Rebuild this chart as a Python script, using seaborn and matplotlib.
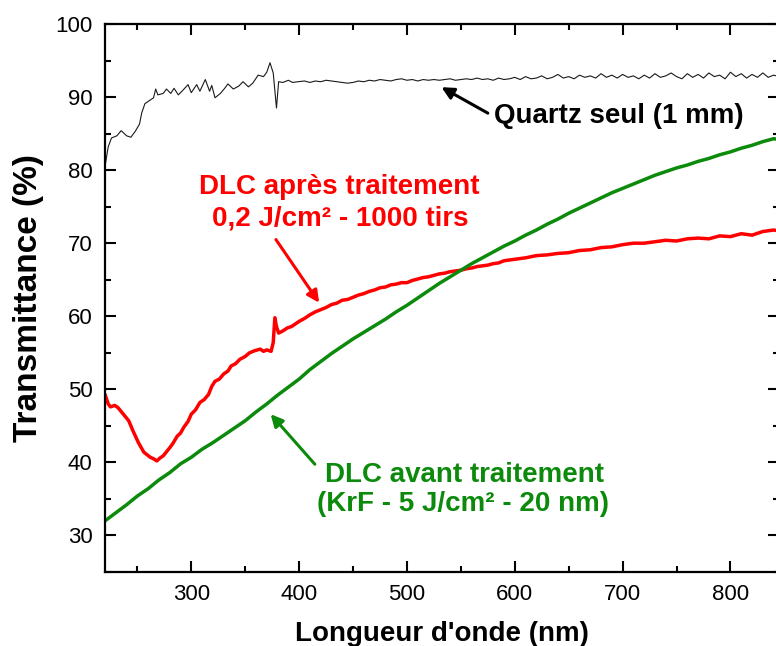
import numpy as np
import pandas as pd
import matplotlib
matplotlib.use("Agg")
import matplotlib.pyplot as plt
import seaborn as sns
from matplotlib.ticker import MultipleLocator

# --- data ---
quartz_nm = [220, 221, 223, 226, 231, 235, 240, 244, 248, 252, 254, 257, 262, 265, 267, 269,
             274, 277, 281, 284, 288, 292, 297, 300, 305, 308, 313, 317, 319, 322, 327, 331,
             334, 339, 344, 348, 353, 357, 362, 367, 370, 373, 376, 379, 381, 385, 390, 394,
             399, 405, 410, 415, 420, 425, 430, 435, 440, 445, 450, 455, 460, 465, 470, 475,
             480, 485, 490, 495, 500, 505, 510, 515, 520, 525, 530, 535, 540, 545, 550, 555,
             560, 565, 570, 575, 580, 585, 590, 595, 600, 605, 610, 615, 620, 625, 630, 635,
             640, 645, 650, 655, 660, 665, 670, 675, 680, 685, 690, 695, 700, 705, 710, 715,
             720, 725, 730, 735, 740, 745, 750, 755, 760, 765, 770, 775, 780, 785, 790, 795,
             800, 805, 810, 815, 820, 825, 830, 835, 840, 845]
quartz_T = [80.5, 81.4, 83.2, 84.4, 84.7, 85.4, 84.7, 84.5, 85.3, 86.3, 87.8, 89.1, 89.6, 89.9, 91.1, 90.3,
            90.5, 91.1, 90.5, 91.2, 90.3, 90.9, 91.7, 90.6, 91.7, 90.8, 92.4, 90.8, 91.6, 89.9, 90.5, 91.2,
            91.8, 91.1, 91.5, 92.1, 91.4, 91.9, 93.0, 92.8, 93.4, 94.7, 93.3, 88.5, 92.1, 92.0, 92.3, 92.0,
            92.1, 92.2, 92.0, 92.2, 92.1, 92.3, 92.2, 92.1, 92.0, 91.9, 92.0, 92.2, 92.1, 92.3, 92.2, 92.4,
            92.3, 92.2, 92.4, 92.5, 92.3, 92.4, 92.2, 92.4, 92.3, 92.4, 92.3, 92.4, 92.5, 92.3, 92.4, 92.5,
            92.4, 92.6, 92.4, 92.5, 92.3, 92.6, 92.4, 92.5, 92.7, 92.4, 92.8, 92.5, 92.6, 92.9, 92.5, 92.7,
            93.1, 92.6, 92.8, 92.5, 93.0, 92.7, 92.9, 92.6, 93.2, 92.7, 93.0, 92.6, 93.1, 92.7, 92.9, 92.5,
            93.0, 92.6, 93.2, 92.7, 92.9, 93.3, 92.8, 92.5, 93.2, 92.7, 93.1, 92.6, 93.3, 92.8, 93.0, 92.5,
            93.4, 92.8, 93.2, 92.6, 93.1, 92.7, 93.3, 92.7, 93.0, 92.8]

after_nm = [220, 223, 225, 229, 232, 237, 242, 246, 251, 256, 262, 265, 268, 271, 274, 280,
            283, 287, 290, 293, 297, 300, 304, 308, 312, 316, 319, 322, 326, 330, 334, 337,
            341, 345, 350, 354, 359, 364, 367, 370, 374, 376, 377.5, 379, 381, 385, 389, 393,
            397, 400, 405, 410, 415, 420, 425, 430, 435, 440, 445, 450, 455, 460, 465, 470,
            475, 480, 485, 490, 495, 500, 505, 510, 515, 520, 525, 530, 535, 540, 545, 550,
            555, 560, 565, 570, 575, 580, 585, 590, 595, 600, 610, 620, 630, 640, 650, 660,
            670, 680, 690, 700, 710, 720, 730, 740, 750, 760, 770, 780, 790, 800, 810, 820,
            830, 840, 845]
after_T = [49.3, 48.0, 47.6, 47.8, 47.5, 46.6, 45.7, 44.3, 42.7, 41.4, 40.7, 40.5, 40.2, 40.6, 40.9, 42.0,
           42.6, 43.6, 44.0, 44.8, 45.6, 46.6, 47.2, 48.2, 48.6, 49.3, 50.4, 51.1, 51.4, 52.1, 52.5, 53.2,
           53.5, 54.1, 54.5, 55.0, 55.3, 55.5, 55.2, 55.4, 55.2, 56.4, 59.8, 58.6, 57.7, 58.0, 58.4, 58.6,
           59.0, 59.3, 59.7, 60.2, 60.6, 60.9, 61.2, 61.6, 61.8, 62.2, 62.3, 62.6, 62.9, 63.1, 63.4, 63.6,
           63.9, 64.0, 64.3, 64.4, 64.6, 64.6, 64.9, 65.1, 65.3, 65.4, 65.6, 65.8, 65.9, 66.1, 66.2, 66.3,
           66.5, 66.6, 66.8, 66.9, 67.0, 67.2, 67.3, 67.6, 67.7, 67.8, 68.0, 68.3, 68.4, 68.6, 68.7, 69.0,
           69.1, 69.4, 69.5, 69.8, 70.0, 70.0, 70.2, 70.4, 70.3, 70.6, 70.7, 70.6, 71.0, 70.9, 71.3, 71.1,
           71.6, 71.8, 71.7]

before_nm = [220, 230, 240, 250, 260, 270, 280, 290, 300, 310, 320, 330, 340, 350, 360, 370,
             380, 390, 400, 410, 420, 430, 440, 450, 460, 470, 480, 490, 500, 510, 520, 530,
             540, 550, 560, 570, 580, 590, 600, 610, 620, 630, 640, 650, 660, 670, 680, 690,
             700, 710, 720, 730, 740, 750, 760, 770, 780, 790, 800, 810, 820, 830, 840, 845]
before_T = [32.0, 33.1, 34.2, 35.4, 36.4, 37.6, 38.6, 39.8, 40.7, 41.8, 42.7, 43.7, 44.7, 45.7, 46.9, 48.0,
            49.2, 50.3, 51.4, 52.7, 53.8, 54.9, 55.9, 56.9, 57.8, 58.7, 59.6, 60.6, 61.5, 62.5, 63.5, 64.5,
            65.4, 66.3, 67.2, 68.0, 68.8, 69.6, 70.3, 71.1, 71.8, 72.6, 73.3, 74.1, 74.8, 75.5, 76.2, 76.9,
            77.5, 78.1, 78.7, 79.3, 79.8, 80.3, 80.7, 81.2, 81.6, 82.1, 82.5, 83.0, 83.4, 83.9, 84.3, 84.2]

quartz = pd.DataFrame({"nm": quartz_nm, "T": quartz_T})
after = pd.DataFrame({"nm": after_nm, "T": after_T})
before = pd.DataFrame({"nm": before_nm, "T": before_T})

sns.set_style("ticks")
plt.rcParams["font.family"] = ["Liberation Sans", "DejaVu Sans"]
plt.rcParams.update({"text.color": "black", "axes.labelcolor": "black",
                     "xtick.color": "black", "ytick.color": "black",
                     "axes.edgecolor": "black"})

fig = plt.figure(figsize=(7.76, 6.46), dpi=100)
ax = fig.add_axes([105 / 776, 74 / 646, 674 / 776, 548 / 646])

sns.lineplot(data=quartz, x="nm", y="T", ax=ax, color="#1a1a1a", lw=0.8, sort=False, estimator=None)
sns.lineplot(data=after, x="nm", y="T", ax=ax, color="#ff0000", lw=2.5, sort=False, estimator=None)
sns.lineplot(data=before, x="nm", y="T", ax=ax, color="#0b8a0b", lw=2.5, sort=False, estimator=None)

ax.set_xlim(220, 845)
ax.set_ylim(25, 100)
ax.xaxis.set_major_locator(MultipleLocator(100))
ax.xaxis.set_minor_locator(MultipleLocator(50))
ax.yaxis.set_major_locator(MultipleLocator(10))
ax.yaxis.set_minor_locator(MultipleLocator(5))
ax.set_yticks([30, 40, 50, 60, 70, 80, 90, 100])
ax.tick_params(which="both", direction="in", top=True, right=True, width=1.5, color="black")
ax.tick_params(which="major", length=8, labelsize=16, pad=9, labelcolor="black")
ax.tick_params(which="minor", length=4.5)
for s in ax.spines.values():
    s.set_linewidth(1.6)
    s.set_color("black")

ax.set_xlabel("Longueur d'onde (nm)", fontsize=20, fontweight="bold", labelpad=11)
ax.set_ylabel("Transmittance (%)", fontsize=24, fontweight="bold", labelpad=8)

# annotations
ax.text(581, 86.5, "Quartz seul (1 mm)", fontsize=20, fontweight="bold", color="black",
        ha="left", va="baseline")
ax.annotate("", xy=(532, 91.35), xytext=(575, 87.8),
            arrowprops=dict(arrowstyle="-|>", color="black", lw=2.2, mutation_scale=18,
                            shrinkA=0, shrinkB=0))

ax.text(437, 76.8, "DLC après traitement", fontsize=20, fontweight="bold", color="#ff0000",
        ha="center", va="baseline")
ax.text(438, 72.4, "0,2 J/cm² - 1000 tirs", fontsize=20, fontweight="bold", color="#ff0000",
        ha="center", va="baseline")
ax.annotate("", xy=(418.6, 61.85), xytext=(378.5, 70.5),
            arrowprops=dict(arrowstyle="-|>", color="#ff0000", lw=2.2, mutation_scale=18,
                            shrinkA=0, shrinkB=0))

ax.text(553, 37.3, "DLC avant traitement", fontsize=20, fontweight="bold", color="#0b8a0b",
        ha="center", va="baseline")
ax.text(552, 33.3, "(KrF - 5 J/cm² - 20 nm)", fontsize=20, fontweight="bold", color="#0b8a0b",
        ha="center", va="baseline")
ax.annotate("", xy=(373.6, 46.6), xytext=(414.6, 39.75),
            arrowprops=dict(arrowstyle="-|>", color="#0b8a0b", lw=2.2, mutation_scale=18,
                            shrinkA=0, shrinkB=0))

fig.savefig("out.png", dpi=100)
